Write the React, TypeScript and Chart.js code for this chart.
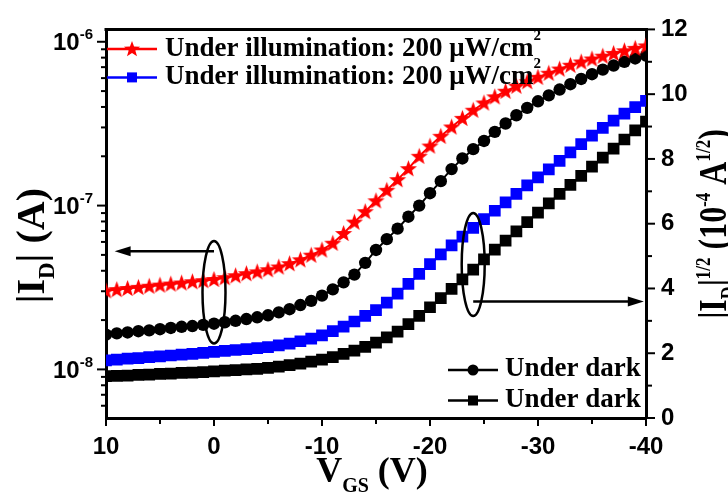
import React, { useEffect, useRef } from 'react';
import { Chart, registerables } from 'chart.js';

Chart.register(...registerables);

// ---------- data ----------
const VGS = [10, 9, 8, 7, 6, 5, 4, 3, 2, 1, 0, -1, -2, -3, -4, -5, -6, -7, -8, -9, -10, -11, -12, -13, -14, -15, -16, -17, -18, -19, -20, -21, -22, -23, -24, -25, -26, -27, -28, -29, -30, -31, -32, -33, -34, -35, -36, -37, -38, -39, -40];

// |ID| under illumination (A), left log axis
const ID_ILLUM = [3.02e-8, 3.07e-8, 3.12e-8, 3.17e-8, 3.22e-8, 3.27e-8, 3.32e-8, 3.37e-8, 3.43e-8, 3.48e-8, 3.54e-8, 3.63e-8, 3.73e-8, 3.84e-8, 3.94e-8, 4.06e-8, 4.22e-8, 4.42e-8, 4.67e-8, 4.98e-8, 5.36e-8, 5.89e-8, 6.76e-8, 7.93e-8, 9.18e-8, 1.07e-7, 1.24e-7, 1.44e-7, 1.68e-7, 2.0e-7, 2.31e-7, 2.65e-7, 3.02e-7, 3.41e-7, 3.82e-7, 4.23e-7, 4.61e-7, 4.99e-7, 5.36e-7, 5.71e-7, 6.07e-7, 6.43e-7, 6.82e-7, 7.19e-7, 7.53e-7, 7.85e-7, 8.17e-7, 8.49e-7, 8.81e-7, 9.12e-7, 9.44e-7];

// |ID| under dark (A), left log axis
const ID_DARK = [1.63e-8, 1.66e-8, 1.68e-8, 1.71e-8, 1.73e-8, 1.76e-8, 1.79e-8, 1.82e-8, 1.84e-8, 1.87e-8, 1.9e-8, 1.94e-8, 1.98e-8, 2.03e-8, 2.08e-8, 2.14e-8, 2.23e-8, 2.33e-8, 2.47e-8, 2.62e-8, 2.82e-8, 3.08e-8, 3.4e-8, 3.79e-8, 4.47e-8, 5.36e-8, 6.24e-8, 7.23e-8, 8.55e-8, 1.0e-7, 1.19e-7, 1.41e-7, 1.67e-7, 1.94e-7, 2.21e-7, 2.48e-7, 2.82e-7, 3.17e-7, 3.56e-7, 3.95e-7, 4.33e-7, 4.71e-7, 5.11e-7, 5.51e-7, 5.93e-7, 6.34e-7, 6.76e-7, 7.16e-7, 7.55e-7, 7.91e-7, 8.22e-7];

// |ID|^1/2 under illumination (1e-4 A^1/2), right axis
const SQRT_ILLUM = [1.78, 1.8, 1.83, 1.85, 1.88, 1.9, 1.93, 1.96, 1.98, 2.01, 2.04, 2.07, 2.1, 2.13, 2.16, 2.19, 2.24, 2.3, 2.37, 2.45, 2.55, 2.68, 2.82, 2.98, 3.15, 3.33, 3.56, 3.84, 4.14, 4.45, 4.75, 5.05, 5.33, 5.6, 5.87, 6.14, 6.4, 6.66, 6.92, 7.18, 7.43, 7.68, 7.94, 8.2, 8.46, 8.72, 8.96, 9.18, 9.4, 9.6, 9.79];

// |ID|^1/2 under dark (1e-4 A^1/2), right axis
const SQRT_DARK = [1.29, 1.3, 1.31, 1.33, 1.34, 1.36, 1.37, 1.39, 1.4, 1.42, 1.44, 1.46, 1.48, 1.5, 1.52, 1.55, 1.59, 1.63, 1.68, 1.74, 1.8, 1.88, 1.98, 2.08, 2.2, 2.33, 2.49, 2.67, 2.9, 3.15, 3.42, 3.7, 3.99, 4.28, 4.58, 4.9, 5.2, 5.48, 5.76, 6.05, 6.34, 6.63, 6.92, 7.2, 7.48, 7.76, 8.04, 8.32, 8.6, 8.88, 9.15];

const X_MAJOR = [10, 0, -10, -20, -30, -40];
const X_MINOR = [5, -5, -15, -25, -35];
const LEFT_MAJOR = [1e-8, 1e-7, 1e-6];
const RIGHT_TICKS = [0, 1, 2, 3, 4, 5, 6, 7, 8, 9, 10, 11, 12];

const LEGEND_ILLUM = 'Under illumination: 200 \u03bcW/cm';
const LEGEND_DARK = 'Under dark';

// annotation anchors (data units)
const LEFT_ELLIPSE = { x: 0, top: 6.07e-8, bottom: 1.44e-8, arrowY: 5.26e-8, arrowTo: 9.2 };
const RIGHT_ELLIPSE = { x: -24, top: 6.33, bottom: 3.15, arrowY: 3.6, arrowTo: -39.8 };

const SERIF = '"Liberation Serif", "Times New Roman", serif';
const SANS = '"Liberation Sans", Arial, sans-serif';

type Part = { t: string; size: number; dy?: number };

function partsWidth(ctx: CanvasRenderingContext2D, parts: Part[], family: string) {
  let w = 0;
  for (const p of parts) {
    ctx.font = `bold ${p.size}px ${family}`;
    w += ctx.measureText(p.t).width;
  }
  return w;
}

function drawParts(
  ctx: CanvasRenderingContext2D,
  parts: Part[],
  x: number,
  y: number,
  align: 'left' | 'center' | 'right',
  rot = 0,
  family = SERIF,
  color = '#000',
  sy = 1
) {
  ctx.save();
  ctx.translate(x, y);
  ctx.rotate(rot);
  ctx.scale(1, sy);
  ctx.textBaseline = 'alphabetic';
  ctx.textAlign = 'left';
  ctx.fillStyle = color;
  const total = partsWidth(ctx, parts, family);
  let cx = align === 'center' ? -total / 2 : align === 'right' ? -total : 0;
  for (const p of parts) {
    ctx.font = `bold ${p.size}px ${family}`;
    ctx.fillText(p.t, cx, p.dy || 0);
    cx += ctx.measureText(p.t).width;
  }
  ctx.restore();
}

function starPath(ctx: CanvasRenderingContext2D, cx: number, cy: number, ro: number, ri: number) {
  ctx.beginPath();
  for (let i = 0; i < 10; i++) {
    const r = i % 2 === 0 ? ro : ri;
    const a = -Math.PI / 2 + (i * Math.PI) / 5;
    const px = cx + r * Math.cos(a);
    const py = cy + r * Math.sin(a);
    if (i === 0) ctx.moveTo(px, py);
    else ctx.lineTo(px, py);
  }
  ctx.closePath();
}

function makeStar(): HTMLCanvasElement {
  const c = document.createElement('canvas');
  c.width = 19;
  c.height = 19;
  const g = c.getContext('2d')!;
  g.fillStyle = '#ff0000';
  starPath(g, 9.5, 10, 9, 3.7);
  g.fill();
  return c;
}

function arrow(ctx: CanvasRenderingContext2D, x0: number, y: number, x1: number) {
  const dir = Math.sign(x1 - x0);
  ctx.beginPath();
  ctx.moveTo(x0, y);
  ctx.lineTo(x1 - dir * 12, y);
  ctx.stroke();
  ctx.beginPath();
  ctx.moveTo(x1, y);
  ctx.lineTo(x1 - dir * 16, y - 5);
  ctx.lineTo(x1 - dir * 16, y + 5);
  ctx.closePath();
  ctx.fill();
}

const decorPlugin = {
  id: 'decor',
  afterDraw(chart: any) {
    const ctx: CanvasRenderingContext2D = chart.ctx;
    const ca = chart.chartArea;
    const sx = chart.scales.x;
    const yl = chart.scales.yL;
    const yr = chart.scales.yR;
    ctx.save();
    ctx.strokeStyle = '#000';
    ctx.fillStyle = '#000';

    // top frame
    ctx.lineWidth = 3;
    ctx.beginPath();
    ctx.moveTo(ca.left - 1.5, ca.top);
    ctx.lineTo(ca.right + 1.5, ca.top);
    ctx.stroke();

    // tick marks
    ctx.lineWidth = 2;
    const tick = (x0: number, y0: number, x1: number, y1: number) => {
      ctx.beginPath();
      ctx.moveTo(x0, y0);
      ctx.lineTo(x1, y1);
      ctx.stroke();
    };
    for (const v of X_MAJOR) {
      const px = sx.getPixelForValue(v);
      tick(px, ca.bottom, px, ca.bottom + 8);
    }
    for (const v of X_MINOR) {
      const px = sx.getPixelForValue(v);
      tick(px, ca.bottom, px, ca.bottom + 6);
    }
    for (let e = -9; e <= -6; e++) {
      for (let k = 1; k <= 9; k++) {
        const v = k * Math.pow(10, e);
        if (v < yl.min || v > yl.max) continue;
        const py = yl.getPixelForValue(v);
        tick(ca.left, py, ca.left - (k === 1 ? 9 : 5), py);
      }
    }
    for (const v of RIGHT_TICKS) {
      const py = yr.getPixelForValue(v);
      tick(ca.right, py, ca.right + (v % 2 === 0 ? 9 : 6), py);
    }

    // left log labels 10^n
    for (const v of LEFT_MAJOR) {
      const py = yl.getPixelForValue(v);
      const ex = Math.round(Math.log10(v));
      drawParts(
        ctx,
        [
          { t: '10', size: 24 },
          { t: String(ex), size: 15, dy: -11 },
        ],
        93,
        py + 8.5,
        'right',
        0,
        SANS
      );
    }

    // axis titles
    drawParts(
      ctx,
      [
        { t: 'V', size: 36 },
        { t: 'GS', size: 20, dy: 10 },
        { t: ' (V)', size: 36 },
      ],
      (ca.left + ca.right) / 2 - 4,
      482,
      'center'
    );
    drawParts(
      ctx,
      [
        { t: '|I', size: 40 },
        { t: 'D', size: 23, dy: 10 },
        { t: '| (A)', size: 40 },
      ],
      44,
      (ca.top + ca.bottom) / 2 + 22,
      'center',
      -Math.PI / 2
    );
    drawParts(
      ctx,
      [
        { t: '|I', size: 32 },
        { t: 'D', size: 18, dy: 8 },
        { t: '|', size: 32 },
        { t: '1/2', size: 17, dy: -13 },
        { t: ' (10', size: 32 },
        { t: '-4', size: 17, dy: -13 },
        { t: ' A', size: 32 },
        { t: '1/2', size: 17, dy: -13 },
        { t: ')', size: 32 },
      ],
      726,
      224,
      'center',
      -Math.PI / 2,
      SERIF,
      '#000',
      1.25
    );

    // ellipses and arrows
    ctx.lineWidth = 2.5;
    const drawEllipse = (cx: number, top: number, bottom: number) => {
      ctx.beginPath();
      ctx.ellipse(cx, (top + bottom) / 2, 11.5, (bottom - top) / 2, 0, 0, Math.PI * 2);
      ctx.stroke();
    };
    {
      const cx = sx.getPixelForValue(LEFT_ELLIPSE.x);
      drawEllipse(cx, yl.getPixelForValue(LEFT_ELLIPSE.top), yl.getPixelForValue(LEFT_ELLIPSE.bottom));
      arrow(ctx, cx, yl.getPixelForValue(LEFT_ELLIPSE.arrowY), sx.getPixelForValue(LEFT_ELLIPSE.arrowTo));
    }
    {
      const cx = sx.getPixelForValue(RIGHT_ELLIPSE.x);
      drawEllipse(cx, yr.getPixelForValue(RIGHT_ELLIPSE.top), yr.getPixelForValue(RIGHT_ELLIPSE.bottom));
      arrow(ctx, cx, yr.getPixelForValue(RIGHT_ELLIPSE.arrowY), sx.getPixelForValue(RIGHT_ELLIPSE.arrowTo));
    }

    // legends
    const legendLine = (x0: number, x1: number, y: number, color: string) => {
      ctx.strokeStyle = color;
      ctx.lineWidth = 2.5;
      ctx.beginPath();
      ctx.moveTo(x0, y);
      ctx.lineTo(x1, y);
      ctx.stroke();
    };
    // top-left
    {
      const x0 = ca.left + 1;
      const y1 = ca.top + 19.5;
      const y2 = ca.top + 48;
      legendLine(x0, x0 + 50, y1, '#ff0000');
      ctx.fillStyle = '#ff0000';
      starPath(ctx, x0 + 25, y1 + 0.5, 8.5, 3.5);
      ctx.fill();
      legendLine(x0, x0 + 50, y2, '#0000ff');
      ctx.fillStyle = '#0000ff';
      ctx.fillRect(x0 + 20, y2 - 5, 10, 10);
      drawParts(ctx, [{ t: LEGEND_ILLUM, size: 27 }, { t: '2', size: 15, dy: -16 }], x0 + 58, ca.top + 26.5, 'left');
      drawParts(ctx, [{ t: LEGEND_ILLUM, size: 27 }, { t: '2', size: 15, dy: -16 }], x0 + 58, ca.top + 55, 'left');
    }
    // bottom-right
    {
      const x0 = ca.right - 198;
      const y1 = ca.bottom - 48;
      const y2 = ca.bottom - 17.5;
      legendLine(x0, x0 + 50, y1, '#000');
      ctx.fillStyle = '#000';
      ctx.beginPath();
      ctx.arc(x0 + 25, y1, 5.5, 0, Math.PI * 2);
      ctx.fill();
      legendLine(x0, x0 + 50, y2, '#000');
      ctx.fillRect(x0 + 20, y2 - 5, 10, 10);
      drawParts(ctx, [{ t: LEGEND_DARK, size: 27 }], x0 + 57, ca.bottom - 42, 'left');
      drawParts(ctx, [{ t: LEGEND_DARK, size: 27 }], x0 + 57, ca.bottom - 11, 'left');
    }
    ctx.restore();
  },
};

export default function App() {
  const ref = useRef<HTMLCanvasElement | null>(null);

  useEffect(() => {
    if (!ref.current) return;
    const star = makeStar();
    const pts = (ys: number[]) => VGS.map((x, i) => ({ x, y: ys[i] }));
    const chart = new Chart(ref.current, {
      type: 'line',
      data: {
        datasets: [
          {
            label: 'Under illumination (log)',
            data: pts(ID_ILLUM),
            yAxisID: 'yL',
            borderColor: '#ff0000',
            borderWidth: 2,
            pointStyle: star as any,
            pointRadius: 9,
            pointBackgroundColor: '#ff0000',
            pointBorderWidth: 0,
            tension: 0,
          },
          {
            label: 'Under dark (log)',
            data: pts(ID_DARK),
            yAxisID: 'yL',
            borderColor: '#000000',
            borderWidth: 2,
            pointStyle: 'circle',
            pointRadius: 6.2,
            pointBackgroundColor: '#000000',
            pointBorderWidth: 0,
            tension: 0,
          },
          {
            label: 'Under illumination (sqrt)',
            data: pts(SQRT_ILLUM),
            yAxisID: 'yR',
            borderColor: '#0000ff',
            borderWidth: 2,
            pointStyle: 'rect',
            pointRadius: 8.3,
            pointBackgroundColor: '#0000ff',
            pointBorderWidth: 0,
            tension: 0,
          },
          {
            label: 'Under dark (sqrt)',
            data: pts(SQRT_DARK),
            yAxisID: 'yR',
            borderColor: '#000000',
            borderWidth: 2,
            pointStyle: 'rect',
            pointRadius: 8.3,
            pointBackgroundColor: '#000000',
            pointBorderWidth: 0,
            tension: 0,
          },
        ],
      },
      options: {
        animation: false,
        responsive: false,
        devicePixelRatio: 1,
        layout: { padding: { top: 22, left: 0, right: 0, bottom: 0 } },
        plugins: { legend: { display: false }, tooltip: { enabled: false } },
        scales: {
          x: {
            type: 'linear',
            position: 'bottom',
            min: -40,
            max: 10,
            reverse: true,
            afterFit: (s: any) => {
              s.height = 77;
            },
            ticks: {
              stepSize: 10,
              color: '#000',
              padding: 15,
              font: { family: SANS, size: 24, weight: 'bold' },
            },
            grid: { drawOnChartArea: false, drawTicks: false },
            border: { display: true, color: '#000', width: 3 },
          },
          yL: {
            type: 'logarithmic',
            position: 'left',
            min: 5.05e-9,
            max: 1.19e-6,
            afterFit: (s: any) => {
              s.width = 106;
            },
            ticks: { display: false },
            grid: { drawOnChartArea: false, drawTicks: false },
            border: { display: true, color: '#000', width: 3 },
          },
          yR: {
            type: 'linear',
            position: 'right',
            min: 0,
            max: 12,
            afterFit: (s: any) => {
              s.width = 82;
            },
            ticks: {
              stepSize: 2,
              color: '#000',
              padding: 15,
              font: { family: SANS, size: 24, weight: 'bold' },
            },
            grid: { drawOnChartArea: false, drawTicks: false },
            border: { display: true, color: '#000', width: 3 },
          },
        },
      } as any,
      plugins: [decorPlugin],
    });
    return () => chart.destroy();
  }, []);

  return (
    <div style={{ position: 'fixed', left: 0, top: 0, width: 728, height: 495, background: '#fff' }}>
      <canvas ref={ref} width={728} height={495} style={{ display: 'block', width: 728, height: 495 }} />
    </div>
  );
}
